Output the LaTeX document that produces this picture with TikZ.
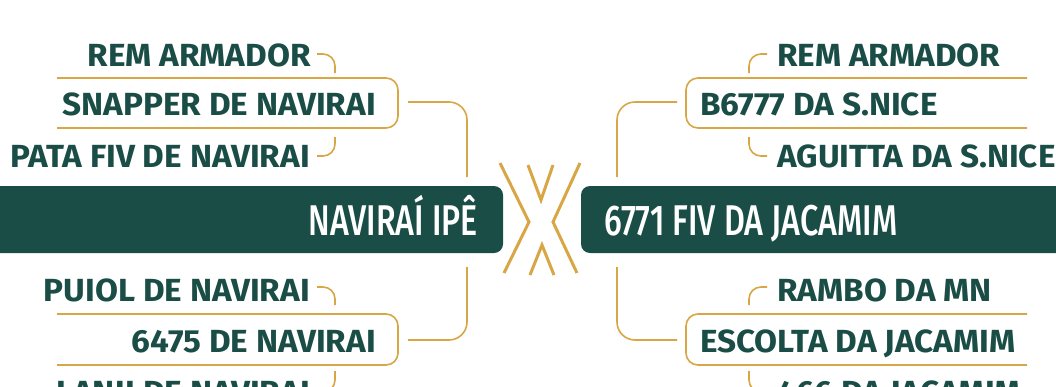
\documentclass[tikz,border=0pt]{standalone}
\usepackage{fontspec}
\newfontfamily\lblfont{Fira Sans Bold}[FakeStretch=1.04]
\newfontfamily\namefont{Fira Sans Medium}[FakeStretch=0.75]
\definecolor{dkgreen}{HTML}{1B4D47}
\definecolor{gold}{HTML}{D8A645}
\begin{document}
\begin{tikzpicture}[x=1pt,y=-1pt,
  lbl/.style={font=\lblfont\fontsize{32}{32}\selectfont, text=dkgreen, inner sep=0pt},
  bignm/.style={font=\namefont\fontsize{43}{43}\selectfont, text=white, inner sep=0pt},
  gline/.style={draw=gold, line width=1.6pt},
  xline/.style={draw=gold, line width=3pt},
  bar/.style={fill=dkgreen, rounded corners=9pt}]
\useasboundingbox (0,0) rectangle (1056,386);
% bars
\fill[bar] (-30,186) rectangle (503,253);
\fill[bar] (581,186) rectangle (1090,253);
\node[bignm, anchor=base east] (sire) at (478,235) {NAVIRAÍ IPÊ};
\node[bignm, anchor=base west] (dam) at (604,235) {6771 FIV DA JACAMIM};
% X
\draw[xline] (500,163) -- (529,222) -- (504,273);
\draw[xline] (580,163) -- (553,222) -- (577,273);
\draw[xline] (528,165) -- (541,200) -- (553,165);
\draw[xline] (530,275) -- (542,245) -- (554,275);
% left upper group
\node[lbl, anchor=base east] (l1) at (311,66) {REM ARMADOR};
\node[lbl, anchor=base east] (l2) at (376,115) {SNAPPER DE NAVIRAI};
\node[lbl, anchor=base east] (l3) at (310,167) {PATA FIV DE NAVIRAI};
\draw[gline, rounded corners=12pt] (57,78) -| (398,128) -- (57,128);
\coordinate (l1c) at (317,54);
\coordinate (l1b) at (335,73);
\coordinate (l3c) at (317,156);
\coordinate (l3b) at (335,137);
\draw[gline, rounded corners=12pt] (l1c) -| (l1b);
\draw[gline, rounded corners=12pt] (l3c) -| (l3b);
% left lower group
\node[lbl, anchor=base east] (l4) at (310,301) {PUIOL DE NAVIRAI};
\node[lbl, anchor=base east] (l5) at (376,352) {6475 DE NAVIRAI};
\node[lbl, anchor=base east] (l6) at (310,403) {LANJI DE NAVIRAI};
\draw[gline, rounded corners=12pt] (57,314) -| (398,365) -- (57,365);
\coordinate (l4c) at (317,287);
\coordinate (l4b) at (335,305);
\coordinate (l6c) at (317,392);
\coordinate (l6b) at (335,371);
\draw[gline, rounded corners=12pt] (l4c) -| (l4b);
\draw[gline, rounded corners=12pt] (l6c) -| (l6b);
% left brackets
\coordinate (lbA) at (408,102);
\coordinate (lbAe) at (467,177);
\coordinate (lbB) at (408,340);
\coordinate (lbBe) at (467,267);
\draw[gline, rounded corners=18pt] (lbA) -| (lbAe);
\draw[gline, rounded corners=18pt] (lbB) -| (lbBe);
% right upper group
\node[lbl, anchor=base west] (r1) at (777,66) {REM ARMADOR};
\node[lbl, anchor=base west] (r2) at (700,115) {B6777 DA S.NICE};
\node[lbl, anchor=base west] (r3) at (777,167) {AGUITTA DA S.NICE};
\draw[gline, rounded corners=12pt] (1027,78) -| (686,128) -- (1027,128);
\coordinate (r1c) at (767,54);
\coordinate (r1b) at (749,73);
\coordinate (r3c) at (767,156);
\coordinate (r3b) at (749,137);
\draw[gline, rounded corners=12pt] (r1c) -| (r1b);
\draw[gline, rounded corners=12pt] (r3c) -| (r3b);
% right lower group
\node[lbl, anchor=base west] (r4) at (777,301) {RAMBO DA MN};
\node[lbl, anchor=base west] (r5) at (700,352) {ESCOLTA DA JACAMIM};
\node[lbl, anchor=base west] (r6) at (777,403) {466 DA JACAMIM};
\draw[gline, rounded corners=12pt] (1027,314) -| (686,365) -- (1027,365);
\coordinate (r4c) at (767,287);
\coordinate (r4b) at (749,305);
\coordinate (r6c) at (767,392);
\coordinate (r6b) at (749,371);
\draw[gline, rounded corners=12pt] (r4c) -| (r4b);
\draw[gline, rounded corners=12pt] (r6c) -| (r6b);
% right brackets
\coordinate (rbA) at (677,102);
\coordinate (rbAe) at (617,177);
\coordinate (rbB) at (677,340);
\coordinate (rbBe) at (617,267);
\draw[gline, rounded corners=18pt] (rbA) -| (rbAe);
\draw[gline, rounded corners=18pt] (rbB) -| (rbBe);
\end{tikzpicture}
\end{document}
